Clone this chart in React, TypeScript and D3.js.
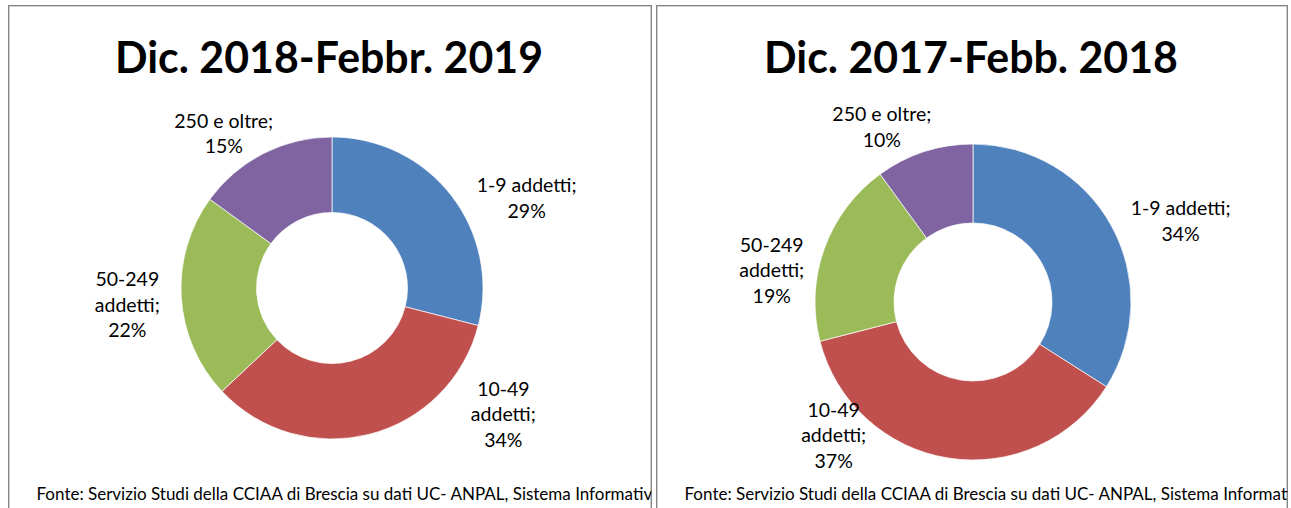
import React from 'react';
import * as d3 from 'd3';

// categories and wrapped label lines (Excel style)
const categories = ['1-9 addetti', '10-49 addetti', '50-249 addetti', '250 e oltre'];
const labelLines = [['1-9 addetti;'], ['10-49', 'addetti;'], ['50-249', 'addetti;'], ['250 e oltre;']];
const colors = ['#4F81BD', '#C0504D', '#9BBB59', '#8064A2'];

const values2019 = [29, 34, 22, 15];
const values2018 = [34, 37, 19, 10];

const title2019 = 'Dic. 2018-Febbr. 2019';
const title2018 = 'Dic. 2017-Febb. 2018';
const source = 'Fonte: Servizio Studi della CCIAA di Brescia su dati UC- ANPAL, Sistema Informativo Excelsior';

const W = 1291;
const H = 508;
const FONT = 'Lato, Carlito, Calibri, sans-serif';

// layout for each panel; label placement is [angle in degrees, distance / radius]
const panels = [
  {
    id: 'p1', x: 8.5, w: 643, title: title2019, titleW: 428, values: values2019,
    cx: 332, cy: 288, r: 151,
    labelPos: [[65.2, 1.42], [126.4, 1.41], [265.3, 1.36], [325, 1.25]],
  },
  {
    id: 'p2', x: 656.5, w: 631, title: title2018, titleW: 414, values: values2018,
    cx: 973, cy: 302, r: 158,
    labelPos: [[68.7, 1.41], [226.3, 1.22], [279, 1.29], [332.5, 1.25]],
  },
];

const Donut = ({ p }) => {
  const pie = d3.pie<number>().sort(null).value(d => d);
  const arcs = pie(p.values);
  const arcGen = d3.arc<d3.PieArcDatum<number>>().innerRadius(p.r * 0.5).outerRadius(p.r);
  const lh = 25.5;
  return (
    <g transform={`translate(${p.cx},${p.cy})`}>
      {arcs.map((a, i) => (
        <path key={categories[i]} d={arcGen(a) || ''} fill={colors[i]} stroke='#ffffff' strokeWidth={0.7} />
      ))}
      {arcs.map((a, i) => {
        const [ang, k] = p.labelPos[i];
        const [lx, ly] = d3.pointRadial((ang * Math.PI) / 180, p.r * k);
        const lines = [...labelLines[i], `${a.data}%`];
        const y0 = ly - ((lines.length - 1) * lh) / 2 + 7;
        return (
          <text key={'l' + i} x={lx} y={y0} textAnchor='middle' fontFamily={FONT} fontSize={19.5} fill='#000'>
            {lines.map((s, j) => (
              <tspan key={j} x={lx} y={y0 + j * lh}>{s}</tspan>
            ))}
          </text>
        );
      })}
    </g>
  );
};

export default function App() {
  return (
    <svg width={W} height={H} style={{ position: 'absolute', left: 0, top: 0, background: '#fff' }}>
      <defs>
        {panels.map(p => (
          <clipPath key={p.id} id={'clip-' + p.id}>
            <rect x={p.x} y={0} width={p.w} height={H} />
          </clipPath>
        ))}
      </defs>
      {panels.map(p => (
        <g key={p.id}>
          <rect x={p.x} y={5.5} width={p.w} height={H} fill='#fff' stroke='#858585' strokeWidth={1} />
          <rect x={p.x + 1} y={6.5} width={p.w - 2} height={H} fill='none' stroke='#cfcfcf' strokeWidth={1} />
          <text
            x={p.x + p.w / 2 - 1}
            y={73}
            textAnchor='middle'
            fontFamily={FONT}
            fontWeight='bold'
            fontSize={44}
            textLength={p.titleW}
            lengthAdjust='spacingAndGlyphs'
            fill='#000'
          >
            {p.title}
          </text>
          <Donut p={p} />
          <text
            x={p.x + 28}
            y={500}
            fontFamily={FONT}
            fontSize={17}
            fill='#000'
            clipPath={`url(#clip-${p.id})`}
          >
            {source}
          </text>
        </g>
      ))}
    </svg>
  );
}
